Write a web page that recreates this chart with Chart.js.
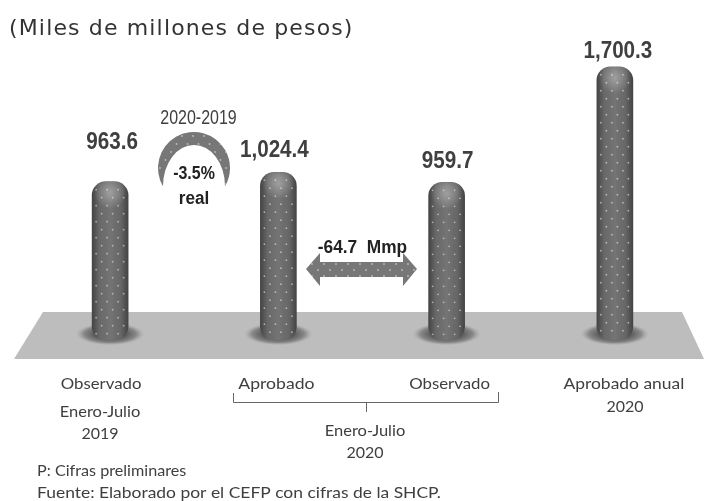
<!DOCTYPE html>
<html lang="es">
<head>
<meta charset="utf-8">
<title>Gasto observado y aprobado</title>
<script src="https://cdn.jsdelivr.net/npm/chart.js@4"></script>
<style>
    html, body { margin: 0; padding: 0; background: #fff; }
    canvas { display: block; }
</style>
</head>
<body>
<canvas id="chart" width="704" height="501"></canvas>
<script>
// Data
const categories = ['Observado', 'Aprobado', 'Observado', 'Aprobado anual'];
const values = [963.6, 1024.4, 959.7, 1700.3];
const valueLabels = ['963.6', '1,024.4', '959.7', '1,700.3'];
const subtitle = '(Miles de millones de pesos)';
const notes = ['P: Cifras preliminares', 'Fuente: Elaborado por el CEFP con cifras de la SHCP.'];

const bodyFont = 'Lato, sans-serif';
const boldFont = '"Liberation Sans", sans-serif';
const textColor = '#3f3f3f';
const markColor = '#777777';

// sx squeezes or widens the text, the reference fonts are not installed
function putText(ctx, text, x, y, font, opts) {
    const o = opts || {};
    ctx.save();
    ctx.translate(x, y);
    ctx.scale(o.sx || 1, 1);
    ctx.font = font;
    ctx.textAlign = o.align || 'center';
    ctx.textBaseline = 'middle';
    ctx.fillStyle = o.color || textColor;
    ctx.fillText(text, 0, 0);
    ctx.restore();
}

// White dots over the path that is currently set as clip
function dotGrid(ctx, x0, y0, x1, y1, stepX, stepY) {
    ctx.fillStyle = 'rgba(255,255,255,0.5)';
    let row = 0;
    for (let y = y0; y <= y1; y += stepY) {
        for (let x = x0 + (row % 2 ? stepX / 2 : 0); x <= x1; x += stepX) {
            ctx.beginPath();
            ctx.arc(x, y, 0.9, 0, Math.PI * 2);
            ctx.fill();
        }
        row++;
    }
}

const floorPlugin = {
    id: 'floor',
    beforeDatasetsDraw(chart) {
        const ctx = chart.ctx;
        ctx.save();
        ctx.fillStyle = '#bdbdbd';
        ctx.beginPath();
        ctx.moveTo(43, 312);
        ctx.lineTo(682, 312);
        ctx.lineTo(704, 359);
        ctx.lineTo(14, 359);
        ctx.closePath();
        ctx.fill();

        // soft shadow round the foot of each bar
        chart.getDatasetMeta(0).data.forEach(bar => {
            ctx.save();
            ctx.translate(bar.x, 334);
            ctx.scale(1, 0.33);
            const g = ctx.createRadialGradient(0, 0, 14, 0, 0, 34);
            g.addColorStop(0, 'rgba(70,70,70,0.9)');
            g.addColorStop(0.6, 'rgba(90,90,90,0.55)');
            g.addColorStop(1, 'rgba(140,140,140,0)');
            ctx.fillStyle = g;
            ctx.beginPath();
            ctx.arc(0, 0, 34, 0, Math.PI * 2);
            ctx.fill();
            ctx.restore();
        });
        ctx.restore();
    },
};

const decorPlugin = {
    id: 'decor',
    afterDatasetsDraw(chart) {
        const ctx = chart.ctx;
        const bars = chart.getDatasetMeta(0).data;

        // Dots and top highlight on the bars
        bars.forEach(bar => {
            ctx.save();
            ctx.beginPath();
            ctx.roundRect(bar.x - 18, bar.y, 36, bar.base - bar.y, 14);
            ctx.clip();
            const glow = ctx.createRadialGradient(bar.x, bar.y + 11, 1, bar.x, bar.y + 11, 16);
            glow.addColorStop(0, 'rgba(190,190,190,0.55)');
            glow.addColorStop(1, 'rgba(190,190,190,0)');
            ctx.fillStyle = glow;
            ctx.fillRect(bar.x - 18, bar.y, 36, 30);
            dotGrid(ctx, bar.x - 14, bar.y + 8, bar.x + 15, bar.base - 3, 11, 8);
            ctx.restore();
        });

        // Value labels, placed per bar as in the reference
        const labelOffset = [[2, -39], [-4, -22], [1, -21], [3, -15]];
        bars.forEach((bar, i) => {
            putText(ctx, valueLabels[i], bar.x + labelOffset[i][0], bar.y + labelOffset[i][1],
                'bold 24px ' + boldFont, { sx: 0.86 });
        });

        // Crescent badge
        ctx.save();
        ctx.beginPath();
        ctx.arc(194, 168, 36, Math.PI * 5 / 6, Math.PI / 6);
        ctx.ellipse(194, 186, 31, 41, 0, 0, Math.PI, true);
        ctx.closePath();
        ctx.fillStyle = markColor;
        ctx.fill();
        ctx.clip();
        dotGrid(ctx, 160, 136, 230, 188, 11, 8);
        ctx.restore();

        // Double arrow between the two Enero-Julio 2020 bars
        ctx.save();
        ctx.beginPath();
        ctx.moveTo(306, 269);
        ctx.lineTo(320, 253);
        ctx.lineTo(320, 262);
        ctx.lineTo(403, 262);
        ctx.lineTo(403, 253);
        ctx.lineTo(417, 269);
        ctx.lineTo(403, 286);
        ctx.lineTo(403, 277);
        ctx.lineTo(320, 277);
        ctx.lineTo(320, 286);
        ctx.closePath();
        ctx.fillStyle = markColor;
        ctx.fill();
        ctx.clip();
        dotGrid(ctx, 312, 264, 414, 276, 12, 6);
        ctx.restore();

        // Bracket under the two middle categories
        ctx.strokeStyle = '#666666';
        ctx.lineWidth = 1;
        ctx.beginPath();
        ctx.moveTo(233.5, 393);
        ctx.lineTo(233.5, 402.5);
        ctx.lineTo(498.5, 402.5);
        ctx.lineTo(498.5, 392);
        ctx.moveTo(366.5, 402.5);
        ctx.lineTo(366.5, 412);
        ctx.stroke();

        // Texts
        ctx.save();
        ctx.letterSpacing = '1.15px';
        putText(ctx, subtitle, 9, 29, '22px "DejaVu Sans", sans-serif', { align: 'left', color: '#333333' });
        ctx.restore();

        const dark = '#222222';
        putText(ctx, '2020-2019', 198.5, 118, '20px ' + boldFont, { sx: 0.8 });
        putText(ctx, '-3.5%', 194, 174, 'bold 19px ' + boldFont, { sx: 0.84, color: dark });
        putText(ctx, 'real', 194, 199, 'bold 18px ' + boldFont, { sx: 0.95, color: dark });
        putText(ctx, '-64.7  Mmp', 362.5, 248, 'bold 18px ' + boldFont, { sx: 0.96, color: dark });

        const axisFont = '16px ' + bodyFont;
        const labelShift = [-9, -2, 3, 9];
        const labelStretch = [1.05, 1.1, 1.05, 1.09];
        bars.forEach((bar, i) => {
            putText(ctx, chart.data.labels[i], bar.x + labelShift[i], 384, axisFont, { sx: labelStretch[i] });
        });
        putText(ctx, 'Enero-Julio', 100, 412, axisFont, { sx: 1.03 });
        putText(ctx, '2019', 100, 434, axisFont);
        putText(ctx, 'Enero-Julio', 365, 431, axisFont, { sx: 1.03 });
        putText(ctx, '2020', 365, 453, axisFont);
        putText(ctx, '2020', 625, 407, axisFont);
        putText(ctx, notes[0], 37, 471, axisFont, { align: 'left', sx: 1.01 });
        putText(ctx, notes[1], 37, 493, axisFont, { align: 'left', sx: 1.09 });
    },
};

new Chart(document.getElementById('chart').getContext('2d'), {
    type: 'bar',
    data: {
        labels: categories,
        datasets: [{
            data: values,
            base: -51,
            barThickness: 36,
            borderRadius: 14,
            borderSkipped: false,
            backgroundColor: (context) => {
                // element position is not set yet on first update, ask the scale
                const cx = context.chart.scales.x.getPixelForValue(context.dataIndex);
                if (!Number.isFinite(cx)) return '#5a5a5a';
                const g = context.chart.ctx.createLinearGradient(cx - 18, 0, cx + 18, 0);
                g.addColorStop(0, '#444444');
                g.addColorStop(0.2, '#686868');
                g.addColorStop(0.5, '#747474');
                g.addColorStop(0.8, '#666666');
                g.addColorStop(1, '#444444');
                return g;
            },
        }],
    },
    options: {
        responsive: false,
        animation: false,
        layout: { padding: { left: 26, right: 5, top: 20, bottom: 161 } },
        plugins: {
            legend: { display: false },
            title: { display: false },
            tooltip: { enabled: false },
        },
        scales: {
            x: { display: false },
            y: { display: false, min: -51, max: 2000 },
        },
    },
    plugins: [floorPlugin, decorPlugin],
});
</script>
</body>
</html>
